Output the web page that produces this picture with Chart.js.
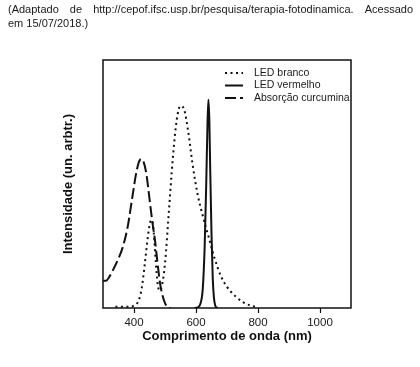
<!DOCTYPE html>
<html>
<head>
<meta charset="utf-8">
<script src="https://cdn.jsdelivr.net/npm/chart.js@4/dist/chart.umd.min.js"></script>
<style>
  html, body { margin: 0; padding: 0; background: #fff; }
  #wrap { position: relative; width: 420px; height: 367px; }
  #chart { position: absolute; left: 0; top: 0; }
  .note { position: absolute; left: 8px; font: 11px "Liberation Sans", Arial, sans-serif; color: #1a1a1a; white-space: nowrap; }
  #l1 { top: 3px; width: 405px; display: flex; justify-content: space-between; }
  #l2 { top: 17px; }
</style>
</head>
<body>
<div id="wrap">
  <canvas id="chart" width="420" height="367"></canvas>
  <div class="note" id="l1"><span>(Adaptado</span><span>de</span><span>http://cepof.ifsc.usp.br/pesquisa/terapia-fotodinamica.</span><span>Acessado</span></div>
  <div class="note" id="l2">em 15/07/2018.)</div>
</div>
<script>
// wavelength (nm) / intensity (arbitrary, 0..1)
const whiteNm  = [340, 380, 400, 415, 425, 435, 445, 452, 458, 464, 470, 476, 483, 490, 500, 512, 525, 538, 550, 562, 575, 590, 605, 620, 640, 660, 680, 700, 725, 750, 775, 800];
const whiteVal = [0.005, 0.005, 0.01, 0.03, 0.08, 0.18, 0.29, 0.345, 0.355, 0.3, 0.19, 0.1, 0.07, 0.09, 0.18, 0.38, 0.6, 0.76, 0.815, 0.8, 0.71, 0.57, 0.46, 0.38, 0.29, 0.2, 0.13, 0.085, 0.05, 0.025, 0.01, 0.003];

const redNm  = [595, 605, 615, 622, 628, 633, 637, 640, 643, 646, 650, 654, 658, 662, 668];
const redVal = [0, 0.002, 0.02, 0.08, 0.25, 0.5, 0.74, 0.84, 0.76, 0.55, 0.3, 0.12, 0.04, 0.01, 0];

const curcNm  = [300, 310, 320, 335, 350, 365, 380, 395, 408, 418, 425, 432, 440, 450, 460, 468, 476, 484, 492, 500, 508, 518];
const curcVal = [0.11, 0.11, 0.125, 0.16, 0.2, 0.25, 0.33, 0.45, 0.55, 0.595, 0.6, 0.585, 0.54, 0.44, 0.34, 0.27, 0.18, 0.1, 0.05, 0.02, 0.005, 0];

const xTicks = [400, 600, 800, 1000];
const labels = ['LED branco', 'LED vermelho', 'Absorção curcumina'];

const FONT = '"Liberation Sans", Arial, sans-serif';
const toPts = (xs, ys) => xs.map((x, i) => ({ x: x, y: ys[i] }));

// frame around the plot + legend with dash patterns
const framePlugin = {
    id: 'frame',
    afterDraw(chart) {
        const { ctx, chartArea: a } = chart;
        ctx.save();
        ctx.strokeStyle = '#111';
        ctx.lineWidth = 1.5;
        ctx.setLineDash([]);
        ctx.strokeRect(a.left, a.top, a.right - a.left, a.bottom - a.top);

        ctx.font = '10.5px ' + FONT;
        ctx.fillStyle = '#1a1a1a';
        ctx.textBaseline = 'middle';
        chart.data.datasets.forEach((ds, i) => {
            const y = 73 + i * 12.5;
            ctx.strokeStyle = '#111';
            ctx.lineWidth = 2;
            ctx.setLineDash(ds.borderDash || []);
            ctx.beginPath();
            ctx.moveTo(225, y);
            ctx.lineTo(243, y);
            ctx.stroke();
            ctx.fillText(ds.label, 254, y);
        });
        ctx.restore();
    }
};

new Chart(document.getElementById('chart'), {
    type: 'line',
    data: {
        datasets: [{
            label: labels[0],
            data: toPts(whiteNm, whiteVal),
            borderColor: '#111',
            borderWidth: 2,
            borderDash: [2, 3.5],
            cubicInterpolationMode: 'monotone'
        }, {
            label: labels[1],
            data: toPts(redNm, redVal),
            borderColor: '#111',
            borderWidth: 2,
            cubicInterpolationMode: 'monotone'
        }, {
            label: labels[2],
            data: toPts(curcNm, curcVal),
            borderColor: '#111',
            borderWidth: 2,
            borderDash: [11, 4],
            cubicInterpolationMode: 'monotone'
        }]
    },
    options: {
        responsive: false,
        animation: false,
        elements: { point: { radius: 0 } },
        layout: { padding: { top: 60, right: 69, left: 0, bottom: 0 } },
        plugins: {
            legend: { display: false },
            tooltip: { enabled: false }
        },
        scales: {
            x: {
                type: 'linear',
                min: 300,
                max: 1100,
                afterBuildTicks: s => { s.ticks = xTicks.map(v => ({ value: v })); },
                afterFit: s => { s.height = 59; },
                border: { display: false },
                grid: { display: true, drawOnChartArea: false, drawTicks: true, tickLength: 5, tickColor: '#111', tickWidth: 1.2 },
                ticks: { color: '#1a1a1a', font: { family: FONT, size: 11.5 }, padding: 3, maxRotation: 0, callback: v => String(v) },
                title: {
                    display: true,
                    text: 'Comprimento de onda (nm)',
                    color: '#111',
                    font: { family: FONT, size: 13, weight: 'bold' },
                    padding: { top: 0, bottom: 23 }
                }
            },
            y: {
                min: 0,
                max: 1,
                afterFit: s => { s.width = 103; },
                border: { display: false },
                grid: { display: false },
                ticks: { display: false },
                title: {
                    display: true,
                    text: 'Intensidade (un. arbtr.)',
                    color: '#111',
                    font: { family: FONT, size: 13, weight: 'bold' },
                    padding: { top: 61, bottom: 0 }
                }
            }
        }
    },
    plugins: [framePlugin]
});
</script>
</body>
</html>
